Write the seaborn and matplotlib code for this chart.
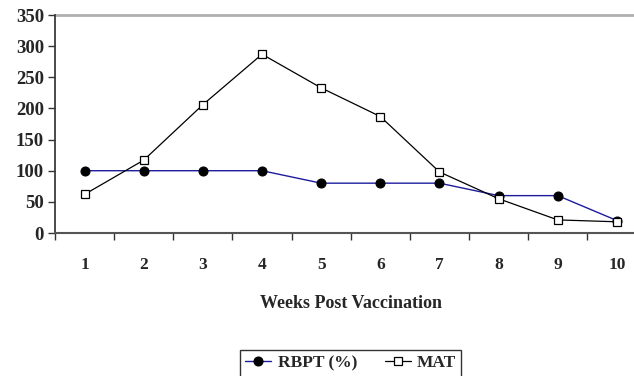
import matplotlib
matplotlib.use("Agg")
import matplotlib.pyplot as plt
import seaborn as sns
import pandas as pd

weeks = [1, 2, 3, 4, 5, 6, 7, 8, 9, 10]
rbpt = [100, 100, 100, 100, 80, 80, 80, 60, 60, 20]
mat = [62, 117, 206, 287, 233, 187, 98, 55, 21, 18]
yticks = [0, 50, 100, 150, 200, 250, 300, 350]

sns.set_theme(style="white")
plt.rcParams['font.family'] = ['Liberation Serif', 'DejaVu Serif']
plt.rcParams['font.weight'] = 'bold'

df = pd.DataFrame({"week": weeks, "RBPT (%)": rbpt, "MAT": mat})

W, H = 634, 376
fig = plt.figure(figsize=(W / 100, H / 100), dpi=100)
left, right, top, bottom = 55, 646.5, 15, 233
ax = fig.add_axes([left / W, (H - bottom) / H, (right - left) / W, (bottom - top) / H])

sns.lineplot(data=df, x="week", y="RBPT (%)", ax=ax, color="#1c1c9c", lw=1,
             marker="o", markersize=6.5, markerfacecolor="black", markeredgecolor="black",
             label="RBPT (%)")
sns.lineplot(data=df, x="week", y="MAT", ax=ax, color="black", lw=0.9,
             marker="s", markersize=6, markerfacecolor="white", markeredgecolor="black",
             markeredgewidth=0.9, label="MAT")

ax.set_xlim(0.5, 10.5)
ax.set_ylim(0, 350)
ax.set_yticks(yticks)
ax.set_yticklabels([str(t) for t in yticks], fontsize=13.5, fontweight='bold')
ax.set_xticks(weeks)
ax.set_xticklabels([str(w) for w in weeks], fontsize=12.5, fontweight='bold')
ax.set_xticks([w + 0.5 for w in weeks[:-1]] + [0.5], minor=True)
ax.tick_params(axis='x', which='major', length=0, pad=17)
ax.tick_params(axis='x', which='minor', length=5, width=1, color='#333333', direction='out', bottom=True)
ax.tick_params(axis='y', which='major', length=5, width=1, color='#333333', direction='out', left=True, pad=3)

for s in ['top', 'right']:
    ax.spines[s].set_visible(False)
ax.spines['left'].set_color('#333333')
ax.spines['bottom'].set_color('#555555')
ax.spines['bottom'].set_linewidth(1.5)
ax.axhline(350, color='#b0b0b0', lw=2, clip_on=False)

ax.set_ylabel("")
ax.set_xlabel("Weeks Post Vaccination", fontsize=13, fontweight='bold')
ax.xaxis.set_label_coords(0.5, (bottom - 295) / (bottom - top))

leg = ax.legend(loc='upper center', bbox_to_anchor=(0.5, (bottom - 350) / (bottom - top)),
                ncol=2, frameon=True, fancybox=False, prop={'size': 12.5, 'weight': 'bold'},
                handlelength=1.5, columnspacing=1.6, borderpad=0.3, handletextpad=0.35,
                borderaxespad=0)
leg.get_frame().set_edgecolor('black')
leg.get_frame().set_linewidth(1)

fig.savefig("out.png", dpi=100)
